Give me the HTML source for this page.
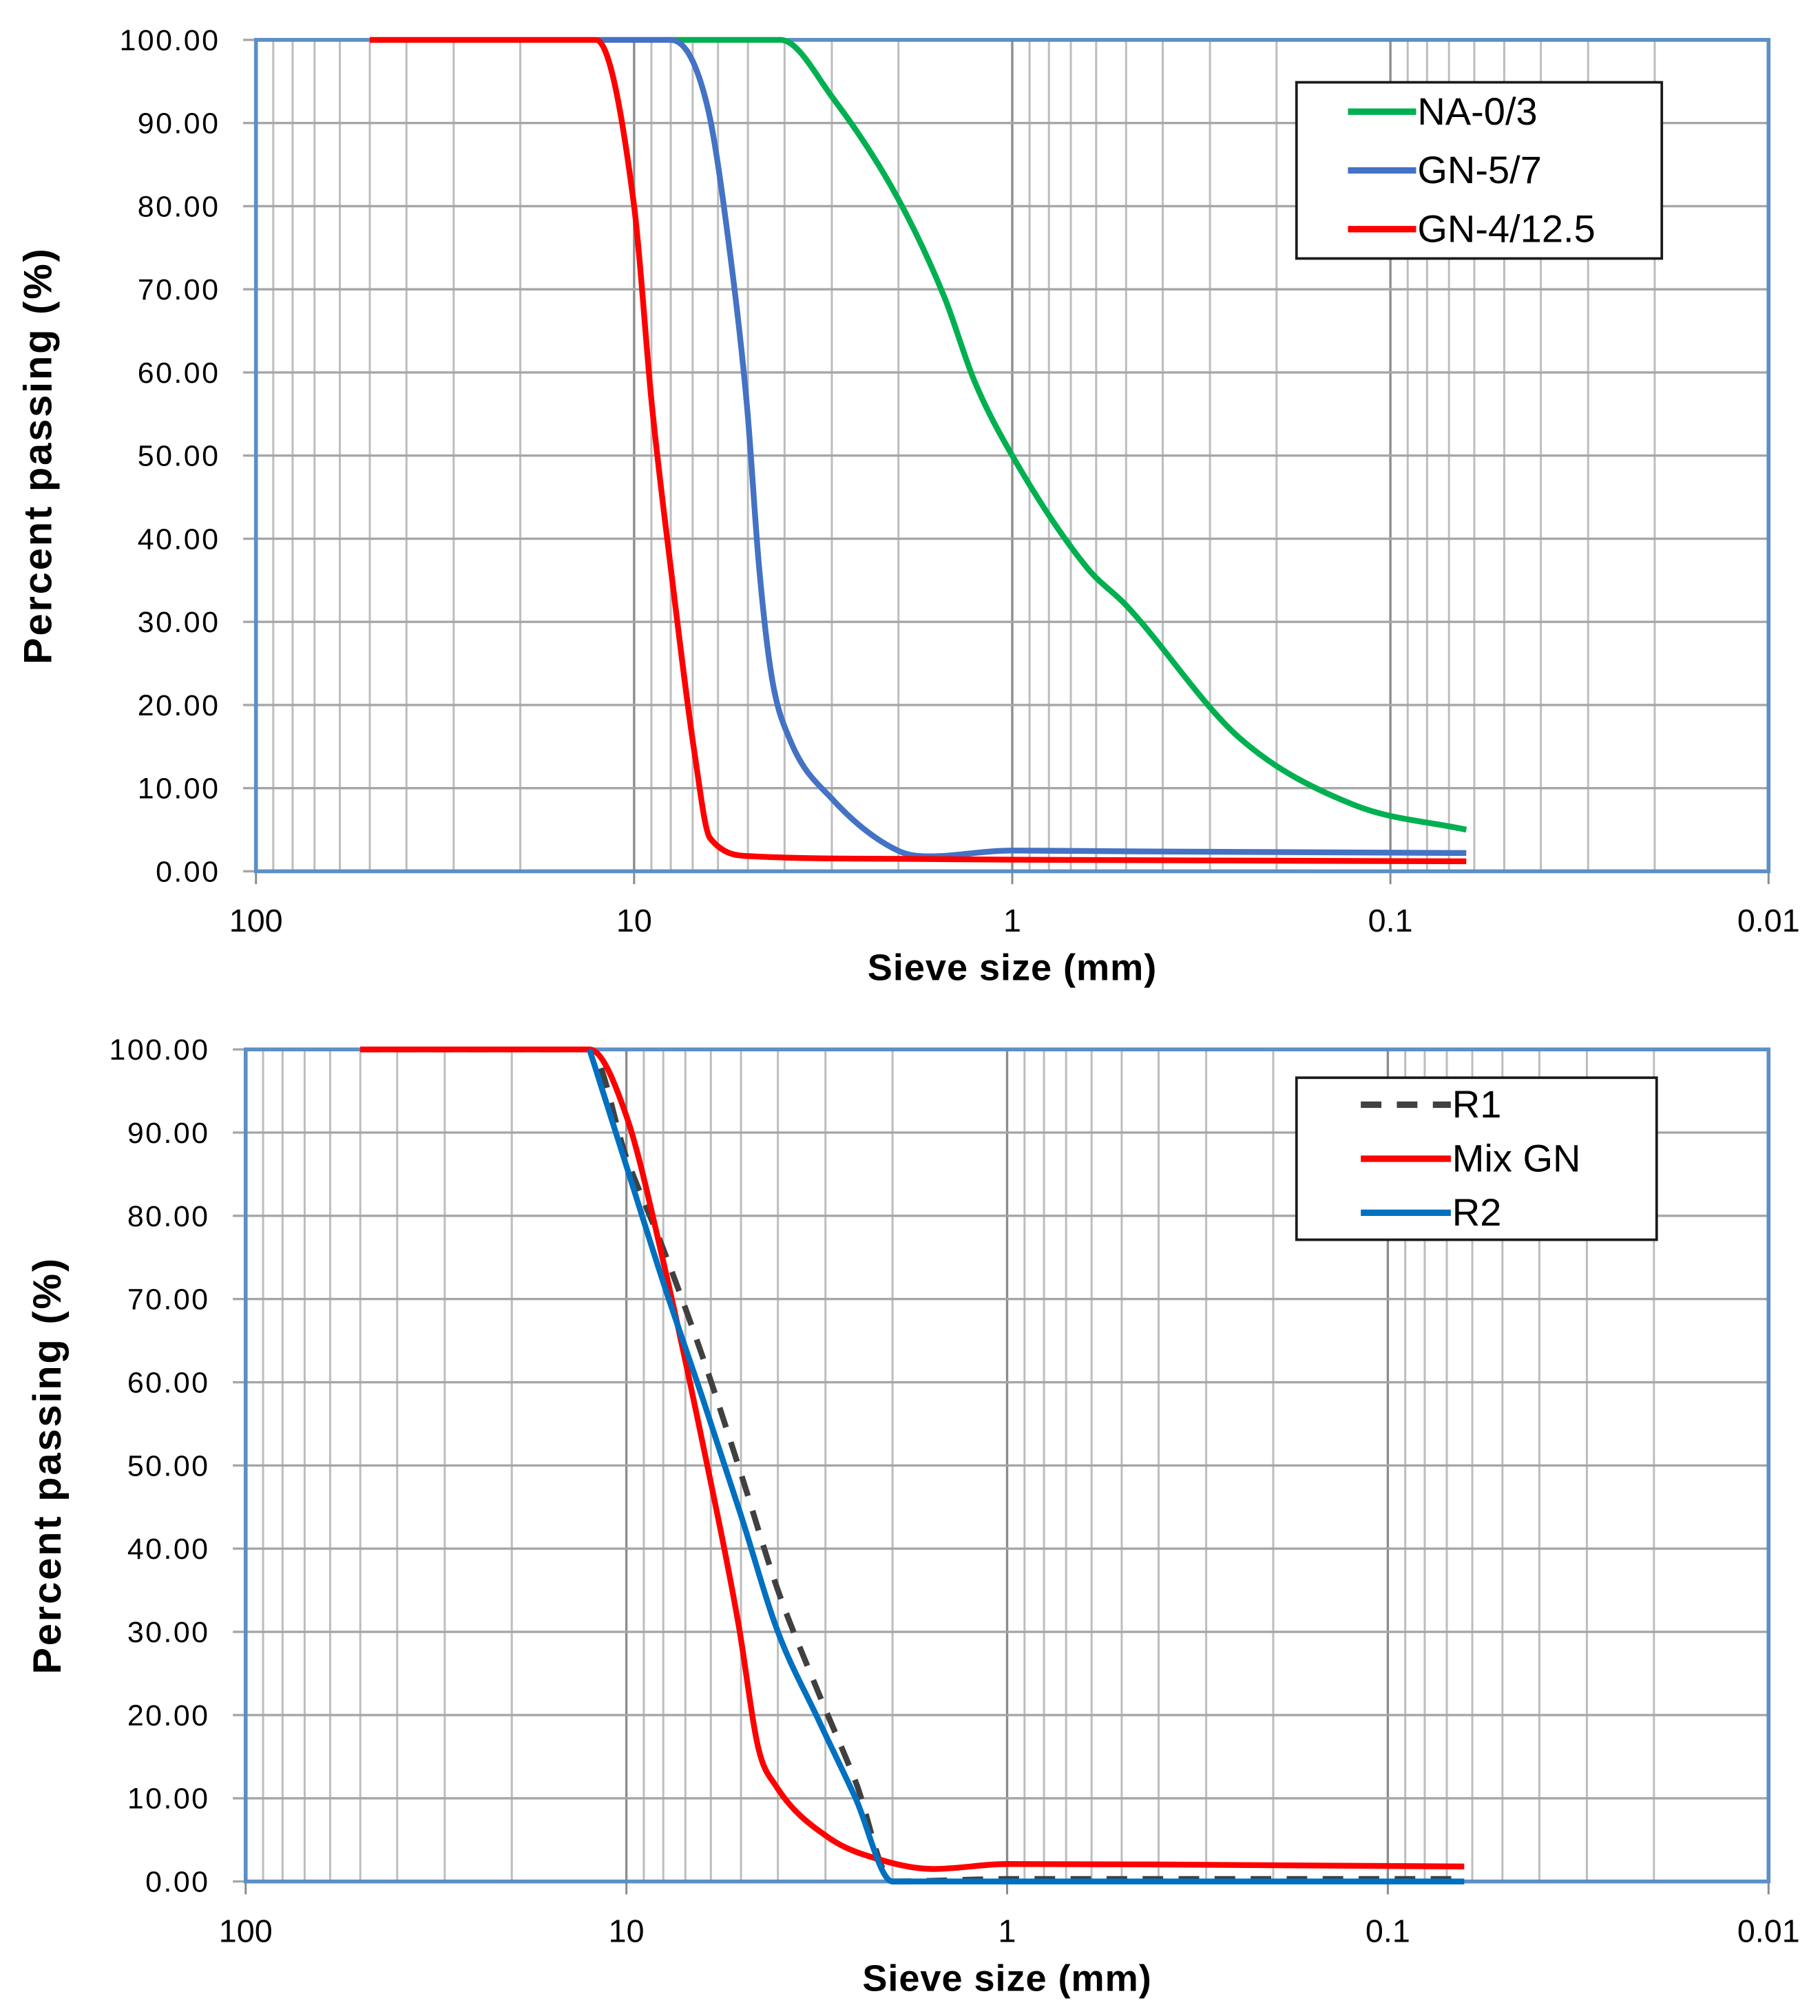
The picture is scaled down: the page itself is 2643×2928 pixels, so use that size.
<!DOCTYPE html>
<html><head><meta charset="utf-8"><style>
html,body{margin:0;padding:0;background:#fff}
svg{display:block}
text{font-family:"Liberation Sans",sans-serif;fill:#000}
</style></head><body>
<svg id="fig" width="2643" height="2928" viewBox="0 0 1415 1567.6" xmlns="http://www.w3.org/2000/svg">
<g id="top"></g>
<g id="bot"></g>
</svg>
<script>
// ----- data: top chart -----
const topSizes_NA = [8, 4.1, 2.98, 2.01, 1.51, 1.26, 1, 0.634, 0.5, 0.25, 0.125, 0.063];
const topVals_NA  = [100, 100, 93, 81, 69, 59, 50, 36.5, 32, 16, 8, 5];
const topSizes_GN57 = [12.5, 8, 6.4, 5.6, 5.03, 4.67, 4.33, 3.87, 2.98, 2.01, 1.66, 1, 0.5, 0.063];
const topVals_GN57  = [100, 100, 92, 75, 56, 36.5, 23.5, 15.8, 8.6, 2.5, 1.8, 2.5, 2.4, 2.2];
const topSizes_GN412 = [50, 12.6, 10, 8.97, 8, 6.9, 6.3, 4.85, 2, 1, 0.063];
const topVals_GN412  = [100, 100, 80, 56, 36.5, 13.8, 4, 1.8, 1.5, 1.4, 1.2];
// ----- data: bottom chart -----
const botSizes_R1 = [50, 12.5, 10, 8, 6.3, 5, 4, 3.15, 2.5, 2, 1, 0.063];
const botVals_R1  = [100, 100, 87, 76, 63, 49, 35, 23, 12, 0, 0.3, 0.3];
const botSizes_Mix = [50, 12.5, 10, 8, 6.3, 5.08, 4.5, 4.05, 2.95, 2.15, 1.56, 1, 0.063];
const botVals_Mix  = [100, 100, 92, 74.5, 52.6, 31, 16, 11.5, 5.3, 2.6, 1.5, 2.1, 1.8];
const botSizes_R2 = [12.5, 10, 8, 6.3, 5, 4, 3.15, 2.5, 2, 1, 0.063];
const botVals_R2  = [100, 86, 72, 58, 44, 30, 19.7, 10, 0, 0, 0];
const yTicks = [0,10,20,30,40,50,60,70,80,90,100];
const xTickLabels = ["100","10","1","0.1","0.01"];

const NS = "http://www.w3.org/2000/svg";
function mk(parent, tag, attrs){const e=document.createElementNS(NS,tag);for(const k in attrs)e.setAttribute(k,attrs[k]);parent.appendChild(e);return e;}
// monotone cubic (Fritsch-Carlson) in x
function smooth(pts){
  const n=pts.length, dx=[], s=[], m=[];
  for(let i=0;i<n-1;i++){dx[i]=pts[i+1][0]-pts[i][0]; s[i]=(pts[i+1][1]-pts[i][1])/dx[i];}
  m[0]=s[0]; m[n-1]=s[n-2];
  for(let i=1;i<n-1;i++){ m[i]=(s[i-1]*s[i]<=0)?0:(s[i-1]+s[i])/2; }
  for(let i=0;i<n-1;i++){
    if(s[i]===0){m[i]=0;m[i+1]=0;continue;}
    const a=m[i]/s[i], b=m[i+1]/s[i], h=a*a+b*b;
    if(h>9){const t=3/Math.sqrt(h); m[i]=t*a*s[i]; m[i+1]=t*b*s[i];}
  }
  let d="M"+pts[0][0].toFixed(2)+","+pts[0][1].toFixed(2);
  for(let i=0;i<n-1;i++){
    const h=dx[i]/3;
    d+=" C"+(pts[i][0]+h).toFixed(2)+","+(pts[i][1]+m[i]*h).toFixed(2)+" "+(pts[i+1][0]-h).toFixed(2)+","+(pts[i+1][1]-m[i+1]*h).toFixed(2)+" "+pts[i+1][0].toFixed(2)+","+pts[i+1][1].toFixed(2);
  }
  return d;
}
function chart(g, L, R, T, B, ylabelX, xTitleY, series, legend){
  const dec=(R-L)/4;
  const X=d=>L+dec*Math.log10(100/d);
  const Y=v=>B-(B-T)*v/100;
  for(let k=0;k<4;k++){for(let m=2;m<=9;m++){
    const x=X(Math.pow(10,1-k)*m);
    const ln=mk(g,"line",{x1:x,x2:x,y1:T,y2:B,stroke:"#bdbdbd","stroke-width":1.6});
    
    
  }}
  for(let k=1;k<4;k++){
    const x=X(100/Math.pow(10,k));
    const ln=mk(g,"line",{x1:x,x2:x,y1:T,y2:B,stroke:"#8c8c8c","stroke-width":1.8});
    
    
  }
  yTicks.forEach(v=>{
    const y=Y(v);
    const ln=mk(g,"line",{x1:L-10,x2:R,y1:y,y2:y,stroke:"#a6a6a6","stroke-width":1.8});
    
    
    const t=mk(g,"text",{x:L-28,y:y+8,"text-anchor":"end","font-size":23,"letter-spacing":"1.3"});
    t.textContent=v.toFixed(2);
    
    
  });
  xTickLabels.forEach((s,i)=>{
    const x=L+dec*i;
    const tk=mk(g,"line",{x1:x,x2:x,y1:B,y2:B+10,stroke:"#8c8c8c","stroke-width":1.6});
    
    
    const t=mk(g,"text",{x:x,y:B+47,"text-anchor":"middle","font-size":25});
    t.textContent=s;
    
    
  });
  const fr=mk(g,"rect",{x:L,y:T,width:R-L,height:B-T,fill:"none",stroke:"#5b8fc7","stroke-width":3});
  
  
  series.forEach(s=>{
    const pts=s.sizes.map((d,i)=>[X(d),Y(s.vals[i])]);
    const p=mk(g,"path",{d:smooth(pts),fill:"none",stroke:s.color,"stroke-width":s.w||4.5,"stroke-linejoin":"round"});
    if(s.dash)p.setAttribute("stroke-dasharray",s.dash);
    
    
  });
  const xt=mk(g,"text",{x:X(1),y:xTitleY,"text-anchor":"middle","font-size":29,"font-weight":"bold","letter-spacing":"0.5"});
  xt.textContent="Sieve size (mm)";
  
  
  const cy=(T+B)/2;
  const yt=mk(g,"text",{x:ylabelX,y:cy,"text-anchor":"middle","font-size":31,"font-weight":"bold","letter-spacing":"1.5",transform:"rotate(-90 "+ylabelX+" "+cy+")"});
  yt.textContent="Percent passing  (%)";
  
  
  const lg=mk(g,"g",{});
  
  
  const lb=mk(lg,"rect",{x:legend.x,y:legend.y,width:legend.w,height:legend.h,fill:"#fff",stroke:"#1a1a1a","stroke-width":2});
  
  
  series.forEach((s,i)=>{
    const y=legend.y+legend.h/6+i*legend.h/3;
    const ln=mk(lg,"line",{x1:legend.lx1,x2:legend.lx2,y1:y,y2:y,stroke:s.color,"stroke-width":5});
    if(s.dash)ln.setAttribute("stroke-dasharray",s.dash);
    
    
    const t=mk(lg,"text",{x:legend.lx2+1,y:y+10,"font-size":30});
    t.textContent=s.label;
    
    
  });
}
chart(document.getElementById("top"),199,1375,31,677.5,40,762,[
  {name:"series-na-0-3",label:"NA-0/3",color:"#00b050",sizes:topSizes_NA,vals:topVals_NA},
  {name:"series-gn-5-7",label:"GN-5/7",color:"#4472c4",sizes:topSizes_GN57,vals:topVals_GN57},
  {name:"series-gn-4-12.5",label:"GN-4/12.5",color:"#ff0000",sizes:topSizes_GN412,vals:topVals_GN412}
],{x:1008,y:64,w:284,h:137,lx1:1048,lx2:1101});
chart(document.getElementById("bot"),191,1375,816,1463,47,1548,[
  {name:"series-r1",label:"R1",color:"#404040",dash:"16,12",sizes:botSizes_R1,vals:botVals_R1},
  {name:"series-mix-gn",label:"Mix GN",color:"#ff0000",sizes:botSizes_Mix,vals:botVals_Mix},
  {name:"series-r2",label:"R2",color:"#0070c0",sizes:botSizes_R2,vals:botVals_R2}
],{x:1008,y:838,w:280,h:126,lx1:1058,lx2:1128});
</script>
</body></html>
